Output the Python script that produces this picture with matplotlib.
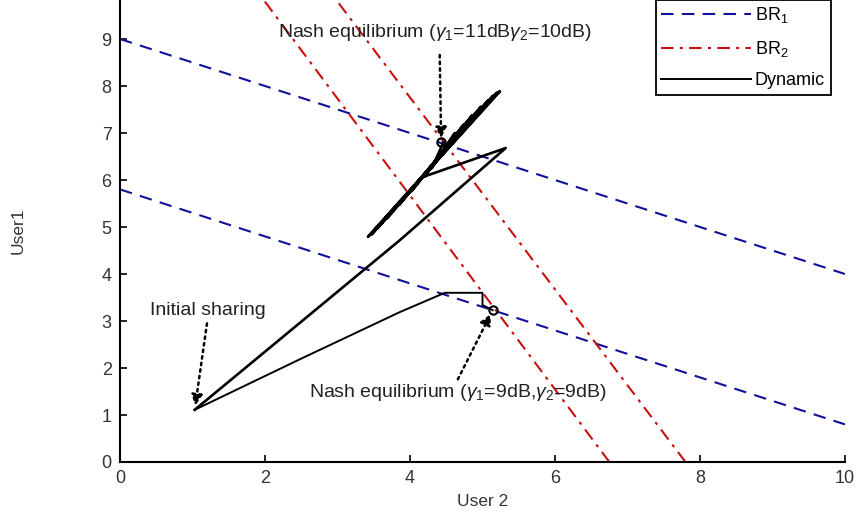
import numpy as np
import matplotlib
matplotlib.use('Agg')
import matplotlib.pyplot as plt

plt.rcParams['font.family'] = ['Liberation Sans', 'DejaVu Sans']
plt.rcParams['mathtext.fontset'] = 'custom'
plt.rcParams['mathtext.rm'] = 'Liberation Sans'
plt.rcParams['mathtext.it'] = 'Liberation Sans:italic'

# best response lines (user2 -> user1), two channel settings each
user2_axis = [0, 10]
br1_low = [5.8, 0.8]
br1_high = [9.0, 4.0]
# BR2 given as user2 = f(user1)
user1_axis = [0, 10]
br2_low = [6.75, 1.9]
br2_high = [7.8, 2.9]

# dynamic, run 1 (converges to the low equilibrium)
dyn1_u2 = [1.03, 2.5, 3.86, 4.48, 5.0, 5.0, 5.14]
dyn1_u1 = [1.11, 2.2, 3.19, 3.6, 3.6, 3.34, 3.23]
# dynamic, run 2 (converges to the high equilibrium, oscillating)
dyn2_u2 = [1.03, 3.86, 5.32, 4.17, 5.24, 3.42, 5.20, 3.47, 5.15, 3.55, 5.08, 3.68,
           4.98, 3.85, 4.86, 4.02, 4.74, 4.2, 4.62, 4.3, 4.46]
dyn2_u1 = [1.11, 4.72, 6.68, 6.06, 7.89, 4.79, 7.86, 4.84, 7.80, 4.97, 7.70, 5.18,
           7.56, 5.47, 7.38, 5.76, 7.18, 6.07, 7.0, 6.25, 6.8]

nash_high = (4.43, 6.8)
nash_low = (5.14, 3.23)
initial = (1.03, 1.11)

fig = plt.figure(figsize=(8.59, 5.13), dpi=100)
ax = fig.add_axes([120 / 859, 51 / 513, 725 / 859, 462 / 513])

blue = '#10109a'
red = '#c81010'
ax.plot(user2_axis, br1_high, '--', color=blue, lw=1.5, dashes=(6, 4), label='BR$_1$')
ax.plot(user2_axis, br1_low, '--', color=blue, lw=1.5, dashes=(6, 4))
ax.plot(br2_low, user1_axis, '-.', color=red, lw=1.5, dashes=(6, 3, 1.5, 3), label='BR$_2$')
ax.plot(br2_high, user1_axis, '-.', color=red, lw=1.5, dashes=(6, 3, 1.5, 3))
ax.plot(dyn1_u2, dyn1_u1, 'k-', lw=1.4, label='Dynamic')
ax.plot(dyn2_u2, dyn2_u1, 'k-', lw=1.9)

ax.plot(*nash_high, 'ko', mfc='none', ms=6, mew=1.5)
ax.plot(*nash_low, 'ko', mfc='none', ms=6, mew=1.5)

arrow = dict(arrowstyle='-|>', linestyle=':', lw=1.8, color='k', mutation_scale=16,
             shrinkA=0, shrinkB=3)
tfs = 14
ax.text(4.34, 9.13, r'Nash equilibrium ($\gamma_1$=11dB$\gamma_2$=10dB)',
        ha='center', va='center', fontsize=tfs, color='#222222')
ax.annotate('', xy=nash_high, xytext=(4.41, 8.66), arrowprops=arrow)
ax.text(1.21, 3.23, 'Initial sharing', ha='center', va='center', fontsize=tfs,
        color='#222222')
ax.annotate('', xy=initial, xytext=(1.2, 2.95), arrowprops=arrow)
ax.text(4.66, 1.47, r'Nash equilibrium ($\gamma_1$=9dB,$\gamma_2$=9dB)',
        ha='center', va='center', fontsize=tfs, color='#222222')
ax.annotate('', xy=nash_low, xytext=(4.66, 1.76), arrowprops=arrow)

ax.set_xlim(0, 10)
ax.set_ylim(0, 9.83)
ax.set_xticks(np.arange(0, 11, 2))
ax.set_yticks(np.arange(0, 10, 1))
ax.tick_params(direction='in', length=5, width=1.2, labelsize=13, pad=6,
               labelcolor='#333333')
for s in ['top', 'right']:
    ax.spines[s].set_visible(False)
for s in ['left', 'bottom']:
    ax.spines[s].set_linewidth(1.5)
ax.set_xlabel('User 2', fontsize=12.5, labelpad=5, color='#333333')
ax.set_ylabel('User1', fontsize=12.5, labelpad=55, color='#333333')

leg = ax.legend(loc='upper right', bbox_to_anchor=(0.98, 1.0), fontsize=13,
                handlelength=5.0, labelspacing=0.75, borderaxespad=0, fancybox=False,
                framealpha=1, edgecolor='k', handletextpad=0.2, borderpad=0.3)
leg.get_frame().set_linewidth(1.3)

fig.savefig('out.png', dpi=100)
